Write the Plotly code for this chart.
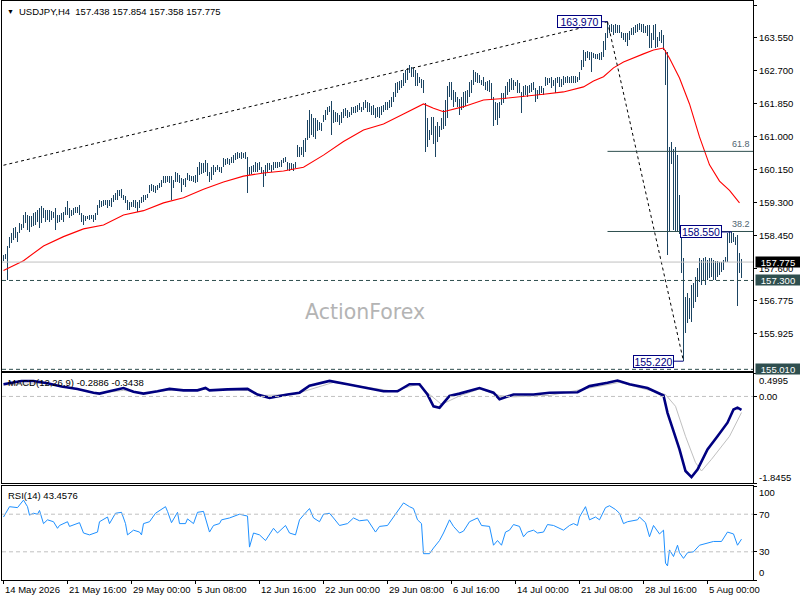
import numpy as np
import plotly.graph_objects as go

# ---------------- data ----------------
HIGH = [
 157.96,157.98,158.19,158.43,158.52,158.64,158.69,158.56,158.77,158.76,
 158.99,159.07,158.99,158.96,158.95,159.03,159.07,159.12,159.16,159.22,
 159.16,159.12,159.12,159.12,159.10,159.07,159.16,158.99,158.99,159.03,
 159.07,159.20,159.36,159.16,159.12,159.16,159.19,159.20,159.25,159.03,
 158.99,158.96,158.96,158.99,158.99,158.99,159.03,159.25,159.37,159.35,
 159.37,159.37,159.37,159.37,159.42,159.50,159.55,159.63,159.62,159.65,
 159.50,159.48,159.37,159.33,159.33,159.37,159.37,159.33,159.37,159.46,
 159.50,159.50,159.52,159.76,159.78,159.76,159.74,159.76,159.80,159.89,
 159.98,159.98,159.98,159.99,159.98,159.89,160.10,160.08,160.02,159.93,
 159.91,159.93,160.06,160.02,159.99,159.98,160.02,160.23,160.36,160.34,
 160.32,160.41,160.32,160.10,160.23,160.28,160.23,160.28,160.23,160.23,
 160.45,160.42,160.45,160.42,160.49,160.54,160.58,160.60,160.58,160.60,
 160.58,160.60,160.49,160.23,160.25,160.28,160.36,160.32,160.36,160.23,
 160.15,160.28,160.32,160.32,160.28,160.36,160.36,160.36,160.36,160.41,
 160.45,160.49,160.36,160.34,160.32,160.30,160.36,160.79,160.75,
 160.75,160.92,160.96,161.44,161.69,161.60,161.48,161.48,161.44,161.39,
 161.35,161.57,161.69,161.78,161.80,161.93,161.70,161.65,161.61,161.57,
 161.65,161.71,161.74,161.69,161.65,161.78,161.78,161.80,161.82,161.87,
 161.78,161.91,161.95,161.91,161.87,161.80,161.82,161.74,161.76,161.78,
 161.80,161.82,161.91,161.91,161.95,162.04,162.17,162.38,162.42,162.45,
 162.47,162.64,162.72,162.77,162.85,162.81,162.77,162.72,162.64,162.55,
 162.50,162.47,161.87,161.48,161.18,161.52,161.52,161.27,161.39,161.27,
 161.48,161.70,161.95,162.30,162.42,162.42,162.21,162.17,162.04,161.99,
 162.04,162.17,162.19,162.21,162.42,162.47,162.72,162.68,162.64,162.60,
 162.47,162.55,162.42,162.45,162.47,162.38,162.04,161.91,161.87,161.91,
 162.12,162.12,162.30,162.42,162.48,162.51,162.47,162.42,162.47,162.38,
 162.17,162.30,162.34,162.30,162.34,162.38,162.42,162.25,162.21,162.30,
 162.30,162.25,162.55,162.53,162.51,162.55,162.47,162.51,162.55,
 162.54,162.49,162.57,162.55,162.57,162.55,162.56,162.57,162.57,162.55,
 162.68,162.98,163.24,163.20,163.22,163.20,163.20,163.17,163.15,163.14,
 163.16,163.20,163.46,163.69,163.97,163.89,163.91,163.89,163.91,163.89,
 163.89,163.71,163.67,163.69,163.67,163.74,163.80,163.84,163.89,163.91,
 163.94,163.91,163.91,163.86,163.88,163.89,163.67,163.89,163.91,163.58,
 163.71,163.76,163.63,
 163.24,163.20,160.75,160.88,160.70,160.75,160.53,159.50,158.56,157.87,
 156.88,156.97,156.84,157.18,157.23,157.40,157.61,157.87,157.83,157.87,
 157.91,157.83,157.87,157.87,157.83,157.81,157.80,157.78,157.78,157.83,
 157.91,158.52,158.56,158.55,158.52,158.43,158.47,158.00,157.854,
]
LOW = [
 157.79,157.85,157.31,158.13,158.26,158.34,158.39,158.28,158.52,158.60,
 158.64,158.77,158.60,158.56,158.69,158.70,158.73,158.82,158.64,158.77,
 158.90,158.82,158.86,158.82,158.85,158.90,158.60,158.77,158.82,158.86,
 158.82,158.99,158.99,158.90,158.96,158.99,159.03,159.03,158.99,158.82,
 158.73,158.84,158.88,158.86,158.88,158.82,158.86,158.99,159.16,159.20,
 159.22,159.25,159.16,159.22,159.20,159.33,159.37,159.37,159.48,159.42,
 159.37,159.29,159.12,159.12,159.20,159.20,159.16,159.07,159.16,159.29,
 159.33,159.37,159.42,159.55,159.60,159.59,159.56,159.63,159.68,159.72,
 159.80,159.80,159.85,159.80,159.37,159.68,159.85,159.85,159.80,159.59,
 159.76,159.72,159.89,159.86,159.86,159.85,159.80,159.85,160.02,160.05,
 160.06,160.10,159.98,159.85,159.89,160.02,160.10,160.15,160.10,160.06,
 160.23,160.28,160.29,160.28,160.32,160.32,160.41,160.42,160.45,160.42,
 160.45,160.42,159.55,160.02,160.05,160.10,160.10,160.10,160.15,160.06,
 159.72,159.98,160.10,160.15,160.10,160.15,160.19,160.19,160.23,160.23,
 160.32,160.36,160.15,160.13,160.15,160.12,160.19,160.49,160.49,
 160.53,160.49,160.62,160.92,160.96,161.05,161.01,160.94,161.14,161.18,
 161.14,161.39,161.44,161.57,161.63,161.05,161.35,161.39,161.39,161.31,
 161.37,161.48,161.54,161.50,161.52,161.57,161.61,161.62,161.65,161.69,
 161.65,161.69,161.74,161.65,161.65,161.57,161.57,161.50,161.52,161.50,
 161.57,161.63,161.69,161.69,161.74,161.78,161.91,162.04,162.12,162.20,
 162.25,162.30,162.38,162.47,162.64,162.55,162.55,162.30,162.30,162.38,
 162.25,162.12,160.62,160.75,160.92,161.05,160.83,160.49,160.88,161.01,
 161.18,161.20,161.27,161.48,162.04,161.95,161.78,161.91,161.78,161.57,
 161.69,161.74,161.80,161.87,162.04,162.12,162.34,162.42,162.38,162.38,
 162.34,162.30,162.21,162.19,162.17,161.95,161.27,161.44,161.31,161.48,
 161.82,161.87,161.99,162.08,162.15,162.21,162.21,162.30,162.12,162.12,
 161.61,162.04,162.08,162.04,162.12,162.15,162.21,161.91,161.99,162.08,
 162.12,162.08,162.30,162.33,162.38,162.25,162.30,162.12,162.38,
 162.28,162.29,162.34,162.38,162.38,162.40,162.39,162.38,162.38,162.42,
 162.47,162.72,162.81,162.95,163.03,162.98,162.68,163.03,163.00,163.00,
 162.99,162.98,163.07,163.24,163.54,163.67,163.71,163.63,163.67,163.67,
 163.67,163.54,163.50,163.45,163.34,163.50,163.63,163.63,163.67,163.71,
 163.76,163.71,163.67,163.67,163.60,163.28,163.28,163.50,163.28,163.33,
 163.46,163.41,163.24,
 162.34,157.96,158.56,160.30,158.60,158.56,158.56,158.50,157.48,155.22,
 155.94,156.20,156.32,156.24,156.58,156.75,156.88,157.27,157.18,157.31,
 157.18,157.31,157.36,157.40,157.31,157.31,157.38,157.44,157.53,157.57,
 157.78,157.78,158.26,158.26,158.30,158.21,156.64,157.48,157.358,
]

MA_IDX = [0, 10, 20, 30, 40, 50, 60, 70, 80, 90, 100, 110, 120, 130, 140, 150, 160, 170,
          180, 190, 200, 210, 215, 220, 230, 240, 250, 260, 270, 280, 290, 295, 300, 305,
          310, 320, 325, 330, 333, 338, 343, 348, 353, 358, 363, 368]
MA_VAL = [157.56, 157.81, 158.19, 158.43, 158.63, 158.73, 158.99, 159.10, 159.30, 159.43,
          159.65, 159.84, 159.99, 160.07, 160.12, 160.22, 160.53, 160.88, 161.18, 161.33,
          161.59, 161.85, 161.74, 161.65, 161.78, 161.95, 161.99, 162.04, 162.10, 162.16,
          162.29, 162.44, 162.55, 162.78, 162.93, 163.14, 163.24, 163.29, 163.03, 162.52,
          161.85, 161.00, 160.28, 159.86, 159.62, 159.30]

MACD_IDX = [0, 9, 15, 22, 29, 37, 45, 48, 53, 60, 65, 70, 77, 83, 90, 97, 101, 103, 112, 122,
            127, 133, 142, 148, 153, 163, 172, 182, 190, 197, 203, 208, 212, 215, 218, 223,
            228, 238, 245, 248, 255, 265, 273, 287, 293, 302, 307, 313, 322, 330, 332, 335,
            338, 341, 344, 347, 352, 357, 362, 365, 367, 369]
MACD_VAL = [0.26, 0.33, 0.33, 0.28, 0.21, 0.16, 0.08, 0.06, 0.11, 0.18, 0.10, 0.06, 0.11, 0.16,
            0.13, 0.13, 0.18, 0.13, 0.15, 0.16, 0.04, -0.03, 0.04, 0.08, 0.23, 0.33, 0.26, 0.18,
            0.11, 0.11, 0.26, 0.26, 0.04, -0.21, -0.24, 0.01, 0.06, 0.18, 0.08, -0.06, 0.04,
            0.04, 0.08, 0.09, 0.22, 0.29, 0.34, 0.26, 0.18, 0.02, -0.35, -0.74, -1.13, -1.59,
            -1.72, -1.56, -1.13, -0.85, -0.56, -0.28, -0.24, -0.2886]
SIG_IDX = [0, 20, 32, 47, 60, 70, 82, 98, 122, 128, 145, 153, 165, 178, 195, 207, 212, 219, 228,
           238, 248, 255, 269, 273, 293, 308, 331, 336, 341, 346, 349, 354, 363, 369]
SIG_VAL = [0.24, 0.28, 0.19, 0.06, 0.13, 0.06, 0.13, 0.15, 0.13, 0.02, 0.04, 0.15, 0.30, 0.22,
           0.11, 0.26, 0.08, -0.17, 0.01, 0.16, 0.02, -0.01, 0.02, 0.02, 0.18, 0.30, 0.04, -0.21,
           -0.85, -1.41, -1.59, -1.34, -0.85, -0.3438]

RSI_IDX = [0, 3, 7, 10, 12, 13, 15, 17, 18, 20, 22, 25, 27, 28, 32, 33, 38, 40, 43, 47,
           48, 52, 53, 56, 59, 61, 62, 65, 68, 69, 70, 73, 76, 81, 82, 84, 87, 88, 91, 92,
           95, 97, 100, 103, 105, 108, 109, 113, 118, 122, 123, 125, 128, 131, 135, 137, 141, 143, 146, 148,
           150, 153, 155, 158, 160, 163, 165, 168, 172, 175, 178, 182, 186, 188, 192, 195, 198, 200, 203, 205,
           207, 209, 210, 213, 215, 218, 220, 223, 225, 228, 230, 233, 237, 239, 243, 245, 247, 249, 251, 253,
           255, 258, 260, 262, 265, 267, 270, 272, 275, 280, 283, 285, 287, 288, 291, 293, 296, 298, 301, 303,
           306, 308, 310, 312, 317, 318, 321, 323, 325, 328, 330, 331, 332, 333, 335, 337, 338, 340, 342, 345,
           348, 352, 355, 359, 362, 365, 367, 369]
RSI_VAL = [67, 78, 77, 85, 78, 69, 71, 70, 74, 60, 64, 62, 55, 58, 62, 57, 61, 50, 48, 51,
           62, 67, 60, 71, 72, 60, 48, 53, 51, 48, 60, 62, 71, 78, 73, 61, 72, 60, 60, 65,
           60, 72, 73, 51, 58, 60, 64, 66, 70, 68, 35, 50, 48, 42, 55, 50, 58, 50, 48, 64,
           69, 76, 66, 62, 70, 71, 66, 58, 60, 66, 63, 64, 51, 57, 58, 67, 76, 82, 78, 76,
           64, 60, 28, 28, 34, 42, 50, 64, 57, 50, 52, 62, 66, 58, 57, 37, 42, 37, 51, 53,
           59, 57, 46, 51, 53, 50, 51, 59, 58, 53, 58, 60, 58, 67, 78, 64, 67, 64, 77, 79,
           75, 71, 60, 62, 64, 67, 61, 46, 58, 49, 53, 18, 15, 32, 25, 37, 29, 23, 29, 30,
           37, 39, 41, 41, 51, 49, 37, 43.4576]

X_LABEL_IDX = [0, 32, 64, 96, 128, 160, 192, 224, 256, 288, 320, 352]
X_LABELS = ["14 May 2026", "21 May 16:00", "29 May 00:00", "5 Jun 08:00", "12 Jun 16:00",
            "22 Jun 00:00", "29 Jun 08:00", "6 Jul 16:00", "14 Jul 00:00", "21 Jul 08:00",
            "28 Jul 16:00", "5 Aug 00:00"]
PRICE_TICKS = [164.400, 163.550, 162.700, 161.850, 161.000, 160.150, 159.300, 158.450,
               157.600, 156.775, 155.925]

HIGH_PT = (302, 163.970)
LOW_PT = (340, 155.220)
MARK_PT = (364, 158.550)
TREND_START = (0, 160.27)
FIB_LEVELS = [38.2, 61.8]
LAST_PRICE = 157.775
LINE_1 = 157.300
LINE_2 = 155.010
OHLC_TEXT = "157.438 157.854 157.358 157.775"
MACD_RANGE = (-1.8455, 0.4995)

# ---------------- styling helpers ----------------
FONT = "Liberation Sans, Arial, sans-serif"
BAR_COLOR = "#1b4462"
SLATE = "#2f4f4f"
NAVY = "#000080"
X0, X1 = -0.75, 374.75


def pp(py):
    """pixel row -> paper fraction (plot area rows 1..580)"""
    return (580 - py) / 579


fig = go.Figure()

hi = np.array(HIGH)
lo = np.array(LOW)
idx = np.arange(len(HIGH))
fig.add_trace(go.Bar(x=idx, y=hi - lo, base=lo, width=0.5,
                     marker=dict(color=BAR_COLOR, line=dict(width=0)),
                     xaxis="x", yaxis="y", hoverinfo="skip"))
fig.add_trace(go.Scatter(x=MA_IDX, y=MA_VAL, mode="lines", line=dict(color="#ff0000", width=1.1),
                         xaxis="x", yaxis="y", hoverinfo="skip"))
# trend lines
fig.add_trace(go.Scatter(x=[TREND_START[0], HIGH_PT[0]], y=[TREND_START[1], HIGH_PT[1]], mode="lines",
                         line=dict(color="#000000", width=1, dash="3px,3px"), xaxis="x", yaxis="y",
                         hoverinfo="skip"))
fig.add_trace(go.Scatter(x=[HIGH_PT[0], LOW_PT[0]], y=[HIGH_PT[1], LOW_PT[1]], mode="lines",
                         line=dict(color="#000000", width=1, dash="3px,3px"), xaxis="x", yaxis="y",
                         hoverinfo="skip"))

# MACD
fig.add_trace(go.Scatter(x=SIG_IDX, y=SIG_VAL, mode="lines", line=dict(color="#c0c0c0", width=1),
                         xaxis="x2", yaxis="y2", hoverinfo="skip"))
fig.add_trace(go.Scatter(x=MACD_IDX, y=MACD_VAL, mode="lines", line=dict(color=NAVY, width=2.6),
                         xaxis="x2", yaxis="y2", hoverinfo="skip"))
# RSI
fig.add_trace(go.Scatter(x=RSI_IDX, y=RSI_VAL, mode="lines", line=dict(color="#1e90ff", width=1),
                         xaxis="x3", yaxis="y3", hoverinfo="skip"))

shapes = []
# horizontal price lines
shapes.append(dict(type="line", xref="x", yref="y", x0=X0, x1=X1, y0=LAST_PRICE, y1=LAST_PRICE,
                   line=dict(color="#c0c0c0", width=1)))
for lvl in (LINE_1, LINE_2):
    shapes.append(dict(type="line", xref="x", yref="y", x0=X0, x1=X1, y0=lvl, y1=lvl,
                       line=dict(color=SLATE, width=1, dash="4px,3px")))
# fibonacci levels
fib_prices = [LOW_PT[1] + l / 100 * (HIGH_PT[1] - LOW_PT[1]) for l in FIB_LEVELS]
for p in fib_prices:
    shapes.append(dict(type="line", xref="x", yref="y", x0=HIGH_PT[0], x1=X1, y0=p, y1=p,
                       line=dict(color=SLATE, width=1)))
# connectors from price labels
for (bx, by), gap in ((HIGH_PT, 6), (MARK_PT, 10), (LOW_PT, 10)):
    shapes.append(dict(type="line", xref="x", yref="y", xsizemode="pixel", xanchor=bx,
                       x0=-gap, x1=0, y0=by, y1=by, line=dict(color=NAVY, width=1)))
# MACD zero and RSI levels
shapes.append(dict(type="line", xref="x2", yref="y2", x0=X0, x1=X1, y0=0, y1=0,
                   line=dict(color="#c0c0c0", width=1, dash="4px,3px")))
for lvl in (70, 30):
    shapes.append(dict(type="line", xref="x3", yref="y3", x0=X0, x1=X1, y0=lvl, y1=lvl,
                       line=dict(color="#c0c0c0", width=1, dash="4px,3px")))

ann = []
# header
ann.append(dict(text="▼", xref="paper", yref="paper", x=0, xshift=3, y=pp(12), xanchor="left",
                yanchor="middle", showarrow=False, font=dict(size=7, color="#000000")))
ann.append(dict(text="USDJPY,H4\u00a0\u00a0" + OHLC_TEXT, xref="paper", yref="paper", x=0, xshift=15,
                y=pp(12), xanchor="left", yanchor="middle", showarrow=False,
                font=dict(size=9.5, color="#000000")))
ann.append(dict(text="MACD(12,26,9) " + f"{MACD_VAL[-1]:.4f} {SIG_VAL[-1]:.4f}", xref="paper",
                yref="paper", x=0, xshift=4, y=pp(382), xanchor="left", yanchor="middle",
                showarrow=False, font=dict(size=9.5, color="#000000")))
ann.append(dict(text=f"RSI(14) {RSI_VAL[-1]:.4f}", xref="paper", yref="paper", x=0, xshift=4,
                y=pp(495), xanchor="left", yanchor="middle", showarrow=False,
                font=dict(size=9.5, color="#000000")))
# watermark
ann.append(dict(text="ActionForex", xref="paper", yref="paper", x=(365 - 2) / 751,
                y=pp(312), xanchor="center", yanchor="middle", showarrow=False,
                font=dict(size=20.5, color="#b4b4b4", family="DejaVu Sans")))
# price labels on chart
for (bx, by), gap, w in ((HIGH_PT, 6, 45), (MARK_PT, 10, 42), (LOW_PT, 10, 41)):
    ann.append(dict(text=f"{by:.3f}", xref="x", yref="y", x=bx, y=by, xanchor="right",
                    yanchor="middle", xshift=-gap, showarrow=False, bgcolor="#ffffff",
                    bordercolor=NAVY, borderwidth=1, borderpad=0, width=w - 2, height=11,
                    font=dict(size=10.5, color=NAVY)))
# fib level texts
for lvl, p in zip(FIB_LEVELS, fib_prices):
    ann.append(dict(text=f"{lvl:.1f}", xref="paper", yref="y", x=1, xshift=-1, y=p, yshift=7,
                    xanchor="right", yanchor="middle", showarrow=False,
                    font=dict(size=9, color="#4f6470")))
# right-axis boxes
for val, bg in ((LAST_PRICE, "#000000"), (LINE_1, SLATE), (LINE_2, SLATE)):
    ann.append(dict(text=f"{val:.3f}", xref="paper", yref="y", x=1, xshift=2, y=val,
                    xanchor="left", yanchor="middle", showarrow=False, bgcolor=bg,
                    borderpad=0, width=44, height=10, font=dict(size=9.5, color="#ffffff")))
# indicator edge labels
for txt, py in ((f"{MACD_RANGE[1]:.4f}", 380), (f"{MACD_RANGE[0]:.4f}", 477), ("100", 492), ("0", 572)):
    ann.append(dict(text=txt, xref="paper", yref="paper", x=1, xshift=4, y=pp(py), xanchor="left",
                    yanchor="middle", showarrow=False, font=dict(size=9.5, color="#000000")))
# x labels (left aligned at the tick)
for i, t in zip(X_LABEL_IDX, X_LABELS):
    ann.append(dict(text=t, xref="x3", yref="paper", x=i, xshift=-1, y=pp(589), xanchor="left",
                    yanchor="middle", showarrow=False, font=dict(size=9.5, color="#000000")))

axis_common = dict(showline=True, mirror=True, linecolor="#000000", linewidth=1, showgrid=False,
                   zeroline=False)
fig.update_layout(
    width=800, height=600,
    margin=dict(l=2, r=47, t=1, b=20),
    paper_bgcolor="#ffffff", plot_bgcolor="#ffffff",
    font=dict(family=FONT, size=9.5, color="#000000"),
    showlegend=False, bargap=0,
    xaxis=dict(domain=[0, 1], range=[X0, X1], anchor="y", showticklabels=False, ticks="", **axis_common),
    xaxis2=dict(domain=[0, 1], range=[X0, X1], anchor="y2", matches="x", showticklabels=False, ticks="",
                **axis_common),
    xaxis3=dict(domain=[0, 1], range=[X0, X1], anchor="y3", matches="x", showticklabels=False,
                ticks="outside", ticklen=3, tickcolor="#000000", tickvals=X_LABEL_IDX, **axis_common),
    yaxis=dict(domain=[pp(371), 1], range=[154.967, 164.503], side="right", anchor="x",
               tickvals=PRICE_TICKS, ticktext=[f"{v:.3f}" for v in PRICE_TICKS], ticks="outside",
               ticklen=3, tickcolor="#000000", **axis_common),
    yaxis2=dict(domain=[pp(483), pp(373)], range=[MACD_RANGE[0], MACD_RANGE[1]], side="right",
                anchor="x2", tickvals=[MACD_RANGE[1], 0, MACD_RANGE[0]], ticktext=["", "0.00", ""],
                ticks="outside", ticklen=3, tickcolor="#000000", **axis_common),
    yaxis3=dict(domain=[0, pp(486)], range=[0, 100], side="right", anchor="x3",
                tickvals=[100, 70, 30, 0], ticktext=["", "70", "30", ""], ticks="outside", ticklen=3,
                tickcolor="#000000", **axis_common),
    shapes=shapes,
    annotations=ann,
)

fig.write_html("out.html", config={"displayModeBar": False},
               post_script="document.body.style.margin='0';document.body.style.overflow='hidden';")
